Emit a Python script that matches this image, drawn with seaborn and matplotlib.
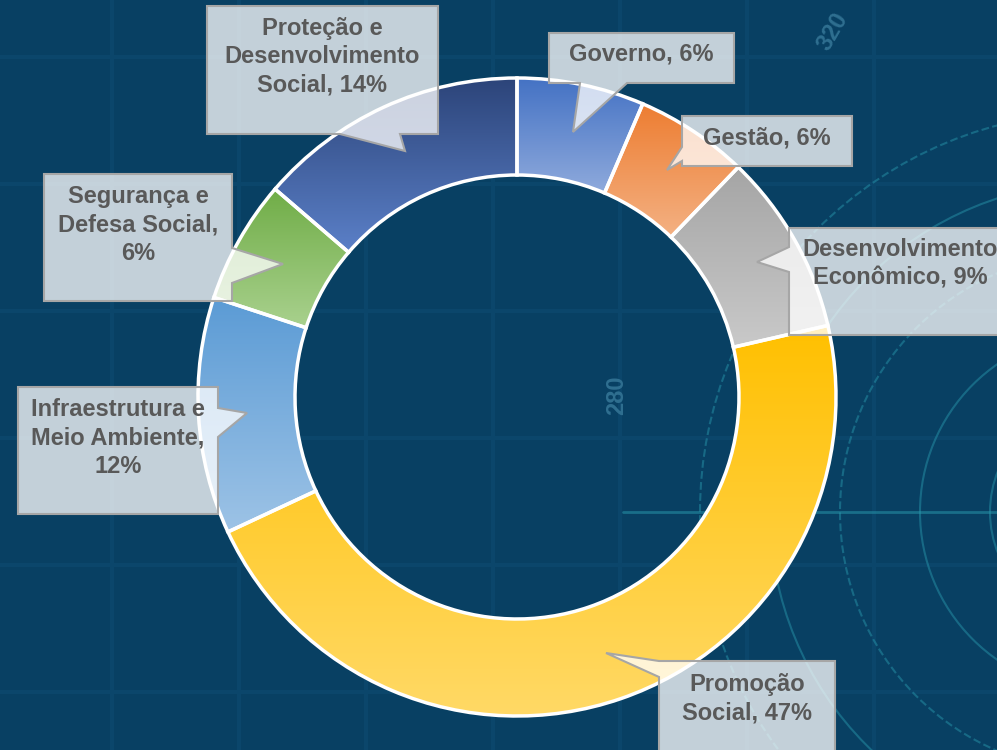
import numpy as np
import matplotlib
matplotlib.use("Agg")
import matplotlib.pyplot as plt
from matplotlib.patches import Polygon, Circle
import seaborn as sns

# ------------------------------
# Data
# ------------------------------
areas = ["Governo", "Gestão", "Desenvolvimento\nEconômico", "Promoção\nSocial",
         "Infraestrutura e\nMeio Ambiente", "Segurança e\nDefesa Social",
         "Proteção e\nDesenvolvimento\nSocial"]
shares = [6.45, 5.75, 9.2, 46.65, 12.0, 6.25, 13.7]
pct_own_line = [False, False, False, False, True, True, False]

top_colors = ["#4472C4", "#ED7D31", "#A5A5A5", "#FFC000", "#5B9BD5", "#70AD47", "#2C4479"]
bottom_colors = ["#8FAADC", "#F4B183", "#C9C9C9", "#FFD966", "#9DC3E6", "#A9D18E", "#5B80C8"]

# ------------------------------
# Layout (pixel coords, y from top)
# ------------------------------
W, H = 997, 750
callout_boxes = [
    [(549, 33), (734, 33), (734, 83), (627, 83), (573, 132), (580, 83), (549, 83)],
    [(682, 116), (852, 116), (852, 166), (682, 166), (682, 161), (667, 170), (682, 147)],
    [(789, 228), (1010, 228), (1010, 335), (789, 335), (789, 272), (757, 262), (789, 247)],
    [(659, 661), (835, 661), (835, 760), (659, 760), (659, 677), (606, 653)],
    [(18, 387), (218, 387), (218, 408), (247, 413), (218, 437), (218, 514), (18, 514)],
    [(44, 174), (232, 174), (232, 248), (283, 264), (232, 283), (232, 301), (44, 301)],
    [(207, 6), (438, 6), (438, 134), (400, 134), (405, 151), (340, 134), (207, 134)],
]
text_pos = [(641, 43), (767, 126), (900, 238), (747, 673), (118, 398), (138, 185), (322, 17)]


def flip(pts):
    return [(x, H - y) for x, y in pts]


sns.set_theme(style="white")
plt.rcParams['font.family'] = ['Liberation Sans', 'DejaVu Sans']

bg = "#084063"
fig = plt.figure(figsize=(W / 100, H / 100), dpi=100)
fig.patch.set_facecolor(bg)
ax = fig.add_axes([0, 0, 1, 1])
ax.set_facecolor(bg)

# background decoration: faint grid and radar circles
for y in [57, 184, 311, 438, 565, 692]:
    ax.axhline(H - y, color="#0B466B", lw=3, zorder=0)
for x in [112, 239, 366, 493, 620, 747, 874]:
    ax.axvline(x, color="#0B466B", lw=3, zorder=0)
radar_c = (1100, H - 512)
for r, ls in [(110, "-"), (180, "-"), (260, "--"), (330, "-"), (400, "--")]:
    ax.add_patch(Circle(radar_c, r, fill=False, ec="#2A9CB0", lw=1.5, ls=ls,
                        alpha=0.45, zorder=0.5))
ax.plot([623, W], [H - 512, H - 512], color="#2A9CB0", lw=2, alpha=0.5, zorder=0.5)
ax.text(617, H - 395, "280", rotation=90, color="#2F6F90", fontsize=17,
        fontweight="bold", ha="center", va="center", zorder=0.5)
ax.text(833, H - 32, "320", rotation=60, color="#2F6F90", fontsize=17,
        fontweight="bold", ha="center", va="center", zorder=0.5)

# donut
wedges, _ = ax.pie(shares, radius=319, center=(517, H - 397), startangle=90,
                   counterclock=False,
                   wedgeprops=dict(width=97, linewidth=2.5, edgecolor="white"))

grad = np.linspace(0, 1, 256).reshape(-1, 1)
for w, top, bot in zip(wedges, top_colors, bottom_colors):
    cmap = sns.blend_palette([bot, top], as_cmap=True)
    ext = w.get_path().get_extents()
    im = ax.imshow(grad, cmap=cmap, extent=[ext.x0, ext.x1, ext.y0, ext.y1],
                   origin="lower", aspect="auto", interpolation="bilinear", zorder=1.5)
    im.set_clip_path(w)
    w.set_facecolor("none")
    w.set_zorder(2)

# callouts
for name, v, own, box, (tx, ty) in zip(areas, shares, pct_own_line, callout_boxes, text_pos):
    ax.add_patch(Polygon(flip(box), closed=True, fc=(1, 1, 1, 0.76), ec="#A6A6A6",
                         lw=1.5, zorder=3))
    label = name + (",\n" if own else ", ") + f"{v:.0f}%"
    ax.text(tx, H - ty, label, ha="center", va="top", multialignment="center",
            fontsize=17, fontweight="bold", color="#595959", linespacing=1.3, zorder=4)

ax.set_xlim(0, W)
ax.set_ylim(0, H)
ax.set_aspect("auto")
ax.axis("off")

fig.savefig("out.png", dpi=100, facecolor=bg)
